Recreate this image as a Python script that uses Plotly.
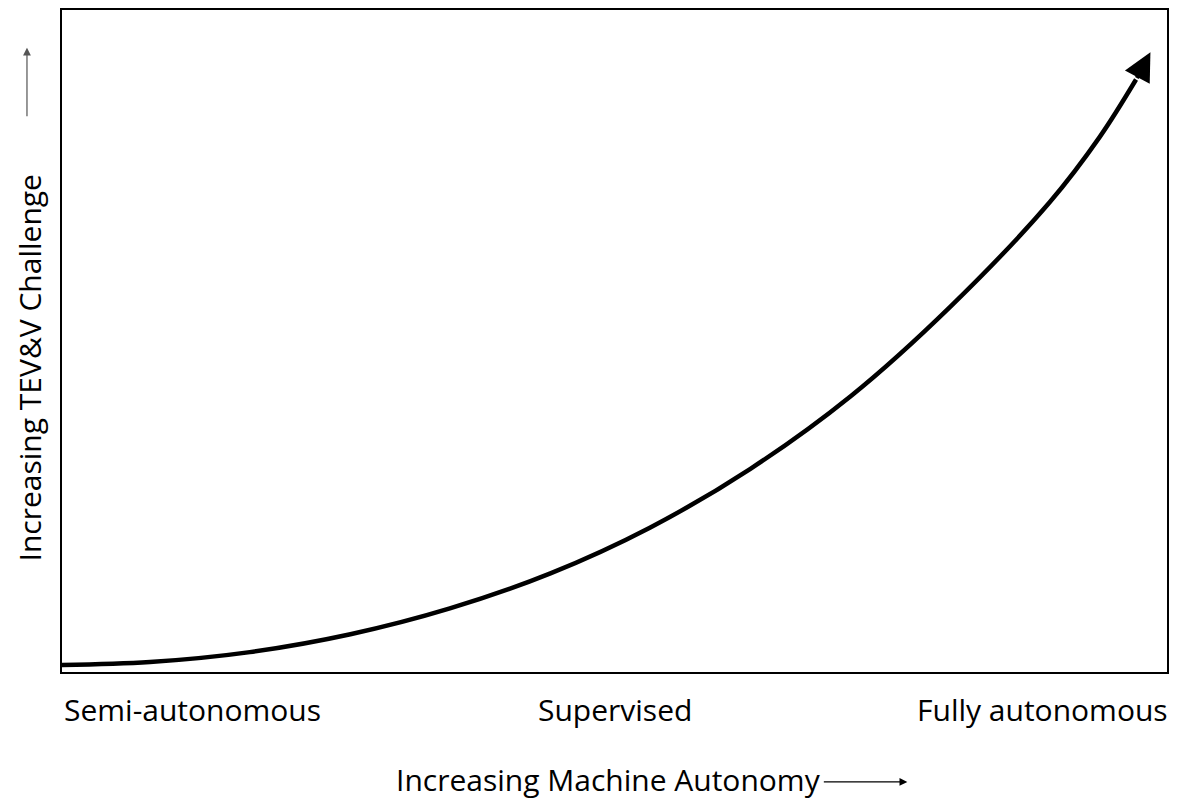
import plotly.graph_objects as go

# Curve: machine autonomy (0-100) vs TEV&V challenge (0-100)
autonomy = [0, 7.96, 17.0, 26.1, 35.1, 44.2, 53.2, 62.3, 71.4, 80.4, 89.4, 93.9, 97.2]
challenge = [1.05, 1.5, 3.0, 5.7, 9.6, 14.9, 21.8, 30.7, 41.7, 55.2, 71.0, 80.8, 89.5]
tip = (98.5, 93.6)

tick_labels = ["Semi-autonomous", "Supervised", "Fully autonomous"]
x_title = "Increasing Machine Autonomy"
y_title = "Increasing TEV&V Challenge"

FONT = "Open Sans, Lato, sans-serif"
FS = 30

fig = go.Figure()
fig.add_trace(go.Scatter(x=autonomy, y=challenge, mode="lines",
                         line=dict(color="black", width=4.5, shape="spline"),
                         hoverinfo="skip", showlegend=False))

fig.add_annotation(x=tip[0], y=tip[1], ax=autonomy[-1], ay=challenge[-1],
                   xref="x", yref="y", axref="x", ayref="y",
                   showarrow=True, arrowhead=2, arrowsize=1.4, arrowwidth=4,
                   arrowcolor="black", text="")

# tick labels
fig.add_annotation(x=0, y=-0.057, xref="paper", yref="paper", text=tick_labels[0],
                   showarrow=False, xanchor="left", yanchor="middle",
                   font=dict(size=FS, color="black", family=FONT))
fig.add_annotation(x=0.5, y=-0.057, xref="paper", yref="paper", text=tick_labels[1],
                   showarrow=False, xanchor="center", yanchor="middle",
                   font=dict(size=FS, color="black", family=FONT))
fig.add_annotation(x=1.003, y=-0.057, xref="paper", yref="paper", text=tick_labels[2],
                   showarrow=False, xanchor="right", yanchor="middle",
                   font=dict(size=FS, color="black", family=FONT))

# axis titles
fig.add_annotation(x=0.495, y=-0.163, xref="paper", yref="paper", text=x_title,
                   showarrow=False, xanchor="center", yanchor="middle", borderpad=0,
                   font=dict(size=FS, color="black", family=FONT))
fig.add_annotation(x=-0.029, y=0.46, xref="paper", yref="paper", text=y_title,
                   textangle=-90, showarrow=False, xanchor="center", yanchor="middle",
                   borderpad=0, font=dict(size=FS, color="black", family=FONT))

# title arrows
fig.add_annotation(x=0.765, y=-0.166, xref="paper", yref="paper", ax=-85, ay=0,
                   showarrow=True, arrowhead=2, arrowsize=1.3, arrowwidth=1.2,
                   arrowcolor="black", text="")
fig.add_annotation(x=-0.0317, y=0.943, xref="paper", yref="paper", ax=0, ay=70,
                   showarrow=True, arrowhead=2, arrowsize=1.3, arrowwidth=1.2,
                   arrowcolor="#555555", text="")

axis_common = dict(showline=True, linecolor="black", linewidth=2, mirror=True,
                   showgrid=False, zeroline=False, showticklabels=False, ticks="")
fig.update_xaxes(range=[0, 100], **axis_common)
fig.update_yaxes(range=[0, 100], **axis_common)

# page body has an 8px margin, so the figure is sized/offset to compensate
fig.update_layout(width=1170, height=794, margin=dict(l=54, r=11, t=0, b=130),
                  plot_bgcolor="white", paper_bgcolor="white")

fig.write_html("out.html")
